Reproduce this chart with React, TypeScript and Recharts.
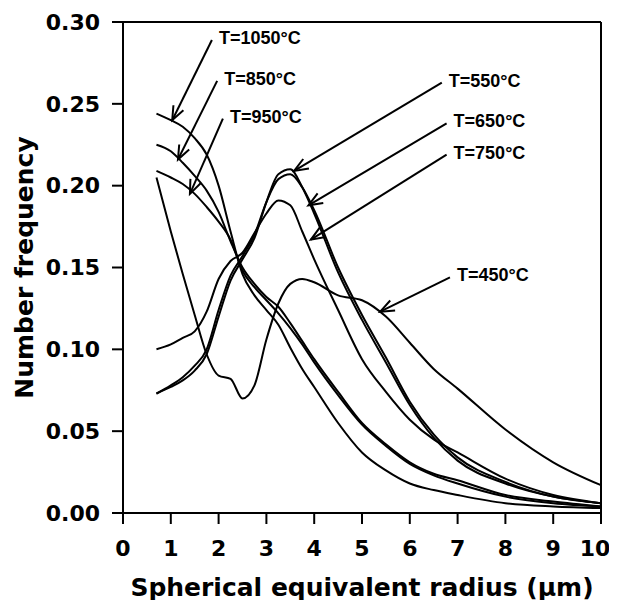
import React from 'react';
import { LineChart, Line, XAxis, YAxis, ReferenceLine, Label } from 'recharts';

const radius = [0.7, 1, 1.25, 1.5, 1.75, 2, 2.25, 2.5, 2.75, 3, 3.25, 3.5, 3.75, 4, 4.5, 5, 5.5, 6, 6.5, 7, 8, 9, 10];

const t450 = [0.205, 0.172, 0.146, 0.121, 0.097, 0.084, 0.082, 0.070, 0.078, 0.106, 0.128, 0.140, 0.143, 0.141, 0.133, 0.130, 0.120, 0.104, 0.088, 0.076, 0.051, 0.031, 0.017];
const t550 = [0.073, 0.077, 0.081, 0.087, 0.097, 0.120, 0.142, 0.155, 0.168, 0.190, 0.207, 0.210, 0.199, 0.183, 0.147, 0.118, 0.092, 0.066, 0.046, 0.032, 0.018, 0.010, 0.006];
const t650 = [0.073, 0.078, 0.083, 0.090, 0.100, 0.124, 0.145, 0.157, 0.170, 0.190, 0.204, 0.207, 0.199, 0.185, 0.150, 0.121, 0.095, 0.068, 0.048, 0.034, 0.019, 0.010, 0.006];
const t750 = [0.100, 0.103, 0.107, 0.111, 0.123, 0.143, 0.154, 0.159, 0.171, 0.183, 0.191, 0.188, 0.172, 0.155, 0.124, 0.094, 0.074, 0.057, 0.045, 0.037, 0.021, 0.011, 0.006];
const t850 = [0.225, 0.221, 0.214, 0.206, 0.197, 0.184, 0.166, 0.150, 0.140, 0.132, 0.126, 0.116, 0.105, 0.094, 0.074, 0.055, 0.042, 0.031, 0.024, 0.020, 0.011, 0.007, 0.004];
const t950 = [0.209, 0.205, 0.201, 0.195, 0.187, 0.178, 0.167, 0.148, 0.138, 0.130, 0.122, 0.113, 0.103, 0.092, 0.072, 0.054, 0.041, 0.030, 0.023, 0.018, 0.010, 0.006, 0.004];
const t1050 = [0.244, 0.240, 0.236, 0.229, 0.219, 0.200, 0.172, 0.146, 0.133, 0.124, 0.115, 0.101, 0.088, 0.077, 0.055, 0.037, 0.026, 0.018, 0.014, 0.011, 0.006, 0.004, 0.003];

const seriesKeys = ['t450', 't550', 't650', 't750', 't850', 't950', 't1050'];
const xTicks = [0, 1, 2, 3, 4, 5, 6, 7, 8, 9, 10];
const yTicks = [0, 0.05, 0.1, 0.15, 0.2, 0.25, 0.3];

// arrow annotations: label, tail (x, y) near text, tip (x, y) on the curve
const notes = [
  { text: 'T=1050°C', x1: 1.86, y1: 0.289, x2: 1.03, y2: 0.240 },
  { text: 'T=850°C', x1: 1.97, y1: 0.264, x2: 1.15, y2: 0.216 },
  { text: 'T=950°C', x1: 2.09, y1: 0.241, x2: 1.40, y2: 0.195 },
  { text: 'T=550°C', x1: 6.67, y1: 0.263, x2: 3.58, y2: 0.209 },
  { text: 'T=650°C', x1: 6.77, y1: 0.238, x2: 3.88, y2: 0.188 },
  { text: 'T=750°C', x1: 6.77, y1: 0.219, x2: 3.93, y2: 0.167 },
  { text: 'T=450°C', x1: 6.84, y1: 0.144, x2: 5.38, y2: 0.123 },
];

const rows = radius.map((r, i) => ({
  r,
  t450: t450[i],
  t550: t550[i],
  t650: t650[i],
  t750: t750[i],
  t850: t850[i],
  t950: t950[i],
  t1050: t1050[i],
}));

const tickFont = { fontFamily: 'DejaVu Sans', fontWeight: 'bold', fontSize: 22, fill: '#000' };
const titleFont = { fontFamily: 'DejaVu Sans', fontWeight: 'bold', fontSize: 25, fill: '#000' };

// bottom tick: last label pulled in a little so it stays inside the page
const XTick = (props: any) => {
  const { x, y, payload } = props;
  const shift = payload.value === 10 ? -6 : 0;
  return (
    <text x={x + shift} y={y} dy="0.71em" textAnchor="middle" {...tickFont}>
      {payload.value}
    </text>
  );
};

const Arrow = (label: string) => (props: any) => {
  const { x1, y1, x2, y2 } = props;
  // x1,y1 = tail, x2,y2 = tip
  const ang = Math.atan2(y2 - y1, x2 - x1);
  const len = 15;
  const spread = 0.38;
  const ax = x2 - len * Math.cos(ang - spread);
  const ay = y2 - len * Math.sin(ang - spread);
  const bx = x2 - len * Math.cos(ang + spread);
  const by = y2 - len * Math.sin(ang + spread);
  return (
    <g>
      <line x1={x1} y1={y1} x2={x2} y2={y2} stroke="#000" strokeWidth={2} />
      <polyline points={`${ax},${ay} ${x2},${y2} ${bx},${by}`} fill="none" stroke="#000" strokeWidth={2} />
      <text
        x={x1 + 7}
        y={y1 + 4}
        fontFamily="Liberation Sans, Arial, sans-serif"
        fontWeight="bold"
        fontSize={18}
        fill="#000"
      >
        {label}
      </text>
    </g>
  );
};

const App: React.FC = () => (
  <div style={{ margin: -8, width: 617, height: 608, background: '#fff' }}>
    <LineChart width={617} height={608} data={rows} margin={{ top: 22, right: 16, left: 0, bottom: 0 }}>
      <XAxis
        dataKey="r"
        type="number"
        domain={[0, 10]}
        ticks={xTicks}
        height={95}
        tickSize={11}
        tickMargin={16}
        axisLine={{ stroke: '#000', strokeWidth: 2 }}
        tickLine={{ stroke: '#000', strokeWidth: 2 }}
        tick={<XTick />}
      >
        <Label
          value="Spherical equivalent radius (µm)"
          position="insideBottom"
          offset={12}
          style={titleFont}
        />
      </XAxis>
      <YAxis
        type="number"
        domain={[0, 0.3]}
        ticks={yTicks}
        width={123}
        tickSize={11}
        tickMargin={12}
        tickFormatter={(v: number) => v.toFixed(2)}
        axisLine={{ stroke: '#000', strokeWidth: 2 }}
        tickLine={{ stroke: '#000', strokeWidth: 2 }}
        tick={tickFont}
      >
        <Label
          value="Number frequency"
          angle={-90}
          position="insideLeft"
          offset={24}
          style={{ ...titleFont, textAnchor: 'middle' }}
        />
      </YAxis>
      <ReferenceLine y={0.3} stroke="#000" strokeWidth={2} />
      <ReferenceLine x={10} stroke="#000" strokeWidth={2} />
      {seriesKeys.map((k) => (
        <Line
          key={k}
          dataKey={k}
          type="monotone"
          stroke="#000"
          strokeWidth={2}
          dot={false}
          isAnimationActive={false}
        />
      ))}
      {notes.map((n) => (
        <ReferenceLine
          key={n.text}
          segment={[{ x: n.x1, y: n.y1 }, { x: n.x2, y: n.y2 }]}
          shape={Arrow(n.text)}
        />
      ))}
    </LineChart>
  </div>
);

export default App;
